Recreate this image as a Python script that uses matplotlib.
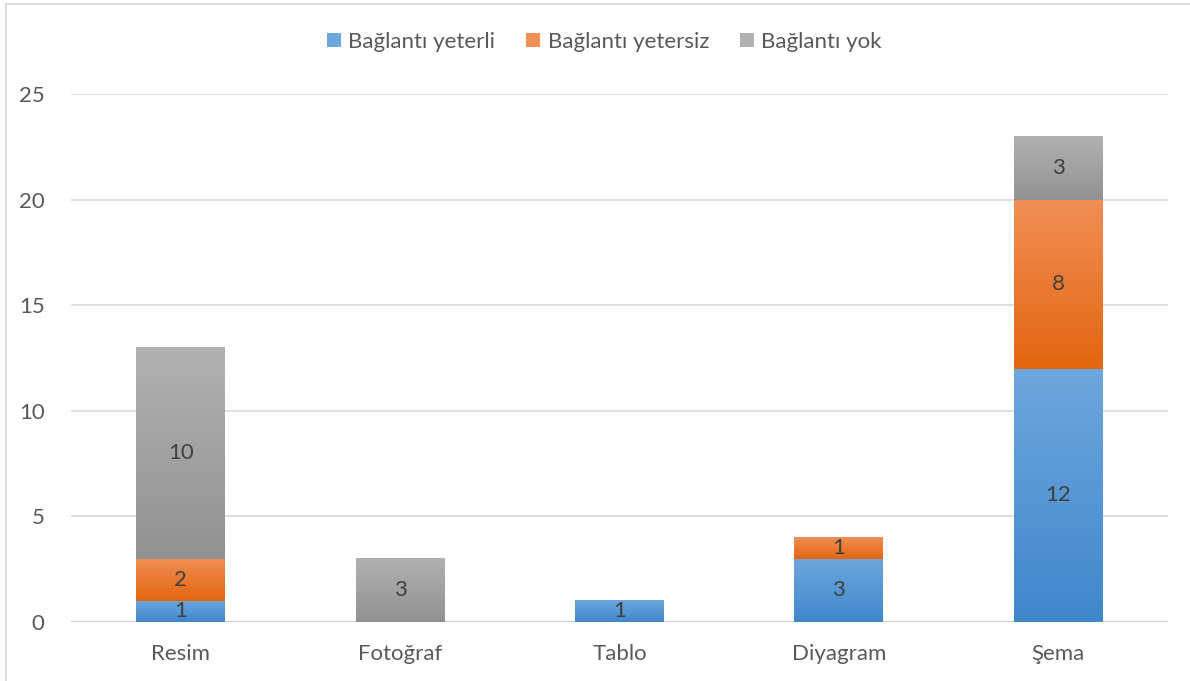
#!/usr/bin/env python3
import matplotlib
matplotlib.use("Agg")
import matplotlib.pyplot as plt
import numpy as np
from matplotlib.colors import LinearSegmentedColormap
from matplotlib.patches import Rectangle

categories = ["Resim", "Fotoğraf", "Tablo", "Diyagram", "Şema"]
series_names = ["Bağlantı yeterli", "Bağlantı yetersiz", "Bağlantı yok"]
yeterli = [1, 0, 1, 3, 12]
yetersiz = [2, 0, 0, 1, 8]
yok = [10, 3, 0, 0, 3]
yticks = [0, 5, 10, 15, 20, 25]

# (top colour, bottom colour) for the vertical gradient of each series
gradients = [
    ("#6ea7dd", "#3f87cb"),
    ("#f18f55", "#e3650f"),
    ("#b1b1b1", "#929292"),
]

plt.rcParams["font.family"] = ["Lato", "DejaVu Sans"]
FS = 16

W, H = 1190, 681
fig = plt.figure(figsize=(W / 100, H / 100), dpi=100)
ax = fig.add_axes([71 / W, (H - 622) / H, (1168 - 71) / W, (622 - 94) / H])

ax.set_xlim(-0.5, len(categories) - 0.5)
ax.set_ylim(0, 25)
ax.set_yticks(yticks)
ax.set_xticks(range(len(categories)))
ax.set_xticklabels(categories)
ax.tick_params(length=0, labelsize=FS, labelcolor="#595959")
ax.tick_params(axis="x", pad=16)
ax.tick_params(axis="y", pad=19)
ax.grid(axis="y", color="#d9d9d9", linewidth=1.2)
ax.set_axisbelow(True)
for s in ax.spines.values():
    s.set_visible(False)
ax.axhline(0, color="#d0d0d0", linewidth=1.6, zorder=1)

width = 0.405
bottoms = np.zeros(len(categories))
series = [yeterli, yetersiz, yok]
for name, vals, (ctop, cbot) in zip(series_names, series, gradients):
    cmap = LinearSegmentedColormap.from_list(name, [cbot, ctop])
    bars = ax.bar(range(len(categories)), vals, width, bottom=bottoms,
                  color=cbot, label=name, zorder=2)
    for b, v in zip(bars, vals):
        if v == 0:
            continue
        x0, y0 = b.get_x(), b.get_y()
        grad = np.linspace(0, 1, 256).reshape(-1, 1)
        ax.imshow(grad, cmap=cmap, origin="lower", aspect="auto",
                  extent=(x0, x0 + b.get_width(), y0, y0 + b.get_height()),
                  zorder=3)
        ax.text(b.get_x() + b.get_width() / 2, y0 + v / 2, str(v),
                ha="center", va="center", fontsize=FS, color="#404040",
                zorder=4)
    bottoms += np.array(vals)

ax.set_xlim(-0.5, len(categories) - 0.5)
ax.set_ylim(0, 25)

handles, labels = ax.get_legend_handles_labels()
for h, (ctop, cbot) in zip(handles, gradients):
    h.patches[0].set_facecolor(ctop)
fig.legend(handles, labels, loc="center", bbox_to_anchor=(0.508, 1 - 42 / H),
           ncol=3, frameon=False, fontsize=FS, labelcolor="#595959",
           handlelength=0.6, handleheight=0.6, handletextpad=0.35,
           columnspacing=1.4)

# chart border
fig.patches.append(Rectangle((6 / W, -0.01), 1.0, 1 - 4 / H + 0.01,
                             transform=fig.transFigure, fill=False,
                             edgecolor="#d9d9d9", linewidth=1.2))

fig.savefig("out.png", dpi=100)
